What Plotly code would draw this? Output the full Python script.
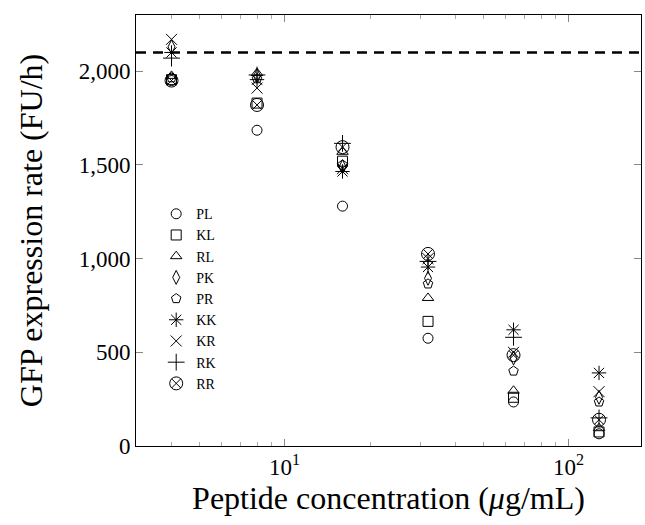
import plotly.graph_objects as go

# Peptide concentration (ug/mL)
conc = [4, 8, 16, 32, 64, 128]

# GFP expression rate (FU/h) per peptide
series = {
    "PL": [1950, 1685, 1280, 575, 235, 65],
    "KL": [1955, 1830, 1520, 665, 260, 75],
    "RL": [1975, 1990, 1570, 790, 295, 95],
    "PK": [2130, 1975, 1490, 895, 470, 260],
    "PR": [1965, 1960, 1500, 865, 400, 235],
    "KK": [2100, 1955, 1465, 955, 620, 390],
    "KR": [2170, 1910, 1480, 1000, 500, 290],
    "RK": [2070, 1980, 1615, 985, 580, 150],
    "RR": [1950, 1820, 1595, 1025, 485, 140],
}

symbols = {
    "PL": "circle-open",
    "KL": "square-open",
    "RL": "triangle-up-open",
    "PK": "diamond-tall-open",
    "PR": "pentagon-open",
    "KK": "asterisk-open",
    "KR": "x-thin-open",
    "RK": "cross-thin-open",
    "RR": "circle-x-open",
}
sizes = {"RR": 13, "KK": 12, "KR": 11, "RK": 12}

reference_rate = 2100

y_ticks = [0, 500, 1000, 1500, 2000]
x_ticks = [10, 100]
x_ticktext = ["10<sup>1</sup>", "10<sup>2</sup>"]
x_minor = [3, 4, 5, 6, 7, 8, 9, 20, 30, 40, 50, 60, 70, 80, 90]

font = "Liberation Serif"

fig = go.Figure()

for name, vals in series.items():
    fig.add_trace(go.Scatter(
        x=conc,
        y=vals,
        mode="markers",
        name=name,
        marker=dict(
            symbol=symbols[name],
            size=sizes.get(name, 10),
            color="black",
            line=dict(color="black", width=1),
        ),
    ))

fig.add_hline(y=reference_rate, line=dict(color="black", width=2.4, dash="10px,7px"))

fig.update_xaxes(
    type="log",
    range=[0.477, 2.255],
    automargin=False,
    tickvals=x_ticks,
    ticktext=x_ticktext,
    ticks="inside",
    ticklen=7,
    tickcolor="#888",
    showline=True,
    linecolor="black",
    mirror="allticks",
    showgrid=False,
    zeroline=False,
    tickfont=dict(family=font, size=23, color="black"),
    minor=dict(tickvals=x_minor, ticks="inside", ticklen=4, tickcolor="#aaa", showgrid=False),
    title=dict(text="Peptide concentration (<i>μ</i>g/mL)",
               font=dict(family=font, size=32, color="black"), standoff=4),
)

fig.update_yaxes(
    range=[0, 2300],
    automargin=False,
    tickvals=y_ticks,
    tickformat=",d",
    ticks="inside",
    ticklen=7,
    tickcolor="#888",
    showline=True,
    linecolor="black",
    mirror="allticks",
    showgrid=False,
    zeroline=False,
    tickfont=dict(family=font, size=23, color="black"),
    title=dict(text="GFP expression rate (FU/h)",
               font=dict(family=font, size=32, color="black"), standoff=26),
)

fig.update_layout(
    width=645,
    height=525,
    margin=dict(l=136, r=4, t=15, b=79),
    plot_bgcolor="white",
    paper_bgcolor="white",
    separators=".,",
    legend=dict(
        x=0.04, y=0.575, xanchor="left", yanchor="top",
        font=dict(family=font, size=14, color="black"),
        bgcolor="rgba(0,0,0,0)",
        itemwidth=30,
        tracegroupgap=0,
    ),
)

# drop the browser's default body margin so the figure sits at the page origin
fig.write_html("out.html", config={"displayModeBar": False},
               post_script="document.body.style.margin='0';")
